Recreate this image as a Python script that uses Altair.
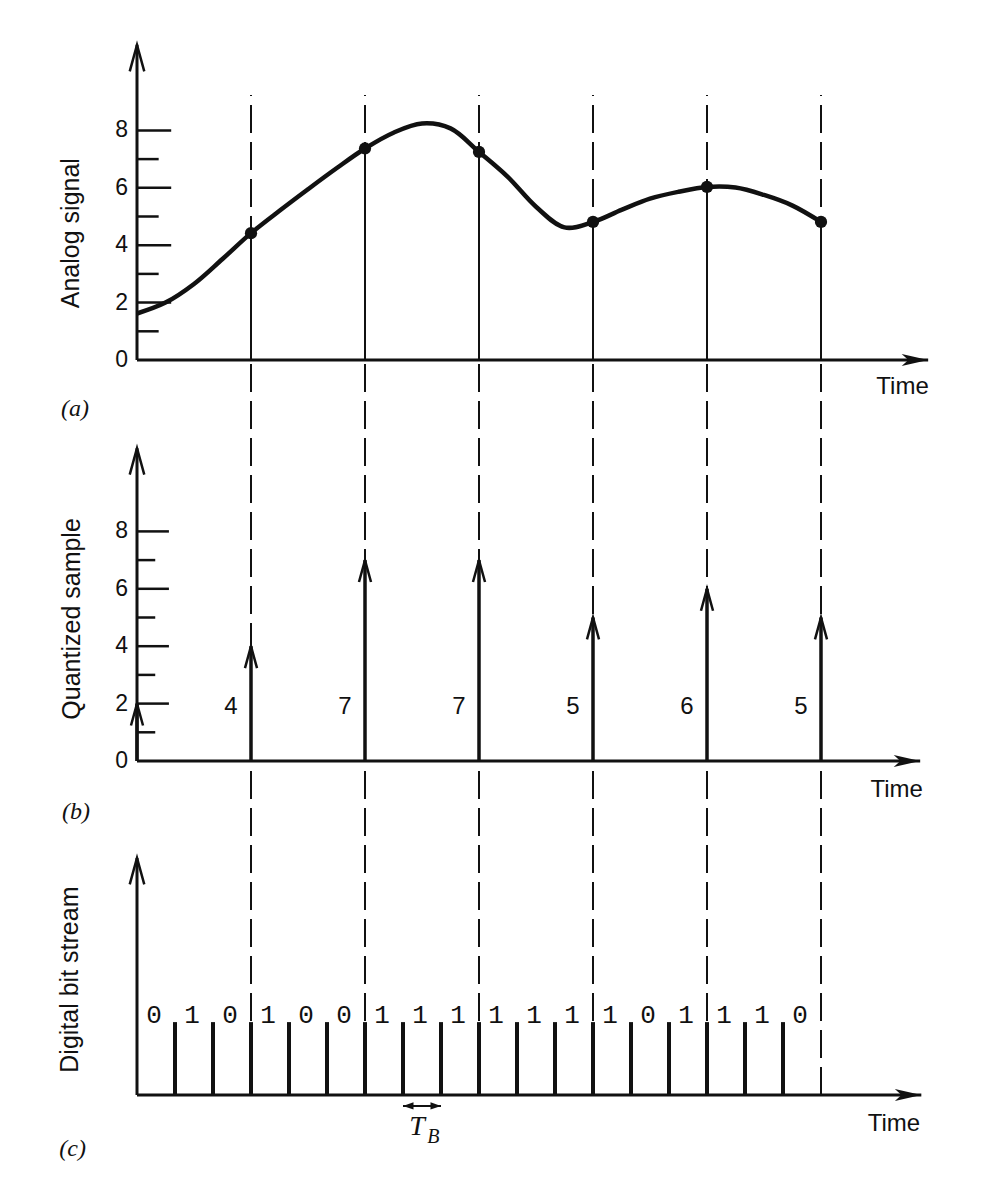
import altair as alt
import pandas as pd

# ---------------------------------------------------------------------------
# Values
# ---------------------------------------------------------------------------
# sampling instants (in sampling intervals) and the signal at each of them
sample_times = [0, 1, 2, 3, 4, 5, 6]
analog_samples = [1.62, 4.42, 7.37, 7.25, 4.81, 6.03, 4.81]
quantized = [2, 4, 7, 7, 5, 6, 5]

# continuous analog waveform, read every quarter of a sampling interval
curve_t = [0.0, 0.25, 0.5, 0.75, 1.0, 1.25, 1.5, 1.75, 2.0, 2.25, 2.5, 2.75, 3.0,
           3.25, 3.5, 3.75, 4.0, 4.25, 4.5, 4.75, 5.0, 5.25, 5.5, 5.75, 6.0]
curve_v = [1.62, 2.0, 2.65, 3.52, 4.42, 5.2, 5.95, 6.68, 7.37, 7.92, 8.24, 8.07, 7.25,
           6.39, 5.34, 4.62, 4.81, 5.23, 5.62, 5.86, 6.03, 6.01, 5.75, 5.38, 4.81]

# 3-bit PCM words of the samples at t = 0..5
bit_stream = "010100111111101110"
BITS_PER_SAMPLE = 3

tick_values = [1, 2, 3, 4, 5, 6, 7, 8]
tick_labels = [0, 2, 4, 6, 8]

# ---------------------------------------------------------------------------
# Layout: one shared coordinate system, the three panels stacked vertically
# ---------------------------------------------------------------------------
W, H = 998, 1180
PX_T = 114.0      # pixels per sampling interval
PX_V = 28.7       # pixels per quantization level
X0 = 137.0        # pixel column of the time origin

BASE_A = (H - 360) / PX_V
BASE_B = (H - 761) / PX_V
BASE_C = (H - 1095) / PX_V

SANS = "Liberation Sans"
SERIF = "Liberation Serif"
MONO = "Liberation Mono"
INK = "#111111"

xs = alt.Scale(domain=[-X0 / PX_T, (W - X0) / PX_T], nice=False, zero=False)
ys = alt.Scale(domain=[0, H / PX_V], nice=False, zero=False)


def X(f="t"):
    return alt.X(f"{f}:Q", scale=xs, axis=None)


def Y(f="u"):
    return alt.Y(f"{f}:Q", scale=ys, axis=None)


CHEVRON = "M -0.55 2 L 0 0 L 0.55 2"
ARROW_R = "M 0 0 L -2 -0.45 L -1.5 0 L -2 0.45 Z"
TRI_L = "M 0 0 L 2 -0.7 L 2 0.7 Z"
TRI_R = "M 0 0 L -2 -0.7 L -2 0.7 Z"

layers = []

# dashed sampling-instant guides running through all three panels
guides = pd.DataFrame({"t": sample_times[1:], "u": BASE_C, "u2": BASE_A + 9.23})
layers.append(alt.Chart(guides).mark_rule(color=INK, strokeWidth=2, strokeDash=[28, 9])
              .encode(x=X(), y=Y(), y2=alt.Y2("u2:Q")))

# axes
bases = [BASE_A, BASE_B, BASE_C]
y_axes = pd.DataFrame({"t": [0, 0, 0], "u": bases,
                       "u2": [BASE_A + 10.98, BASE_B + 10.9, BASE_C + 8.26]})
x_axes = pd.DataFrame({"t": [0, 0, 0], "t2": [6.94, 6.87, 6.88], "u": bases})
layers.append(alt.Chart(y_axes).mark_rule(color=INK, strokeWidth=3)
              .encode(x=X(), y=Y(), y2=alt.Y2("u2:Q")))
layers.append(alt.Chart(x_axes).mark_rule(color=INK, strokeWidth=3)
              .encode(x=X(), x2=alt.X2("t2:Q"), y=Y()))
layers.append(alt.Chart(y_axes).mark_point(shape=CHEVRON, filled=False, size=700,
                                           strokeWidth=2.5, color=INK, opacity=1)
              .encode(x=X(), y=Y("u2")))
layers.append(alt.Chart(x_axes).mark_point(shape=ARROW_R, filled=True, size=700,
                                           color=INK, opacity=1)
              .encode(x=X("t2"), y=Y()))

# inward tick marks and labels on panels (a) and (b)
tick_rows, label_rows = [], []
for base, major, minor in [(BASE_A, 0.30, 0.19), (BASE_B, 0.28, 0.16)]:
    for v in tick_values:
        tick_rows.append({"t": 0, "t2": major if v % 2 == 0 else minor, "u": base + v})
    for v in tick_labels:
        label_rows.append({"t": 0, "u": base + v, "text": str(v)})
layers.append(alt.Chart(pd.DataFrame(tick_rows)).mark_rule(color=INK, strokeWidth=2.5)
              .encode(x=X(), x2=alt.X2("t2:Q"), y=Y()))
layers.append(alt.Chart(pd.DataFrame(label_rows))
              .mark_text(font=SANS, fontSize=23, align="right", baseline="middle", dx=-9, color=INK)
              .encode(x=X(), y=Y(), text="text:N"))

# axis titles
titles = pd.DataFrame({
    "t": [-0.579, -0.570, -0.588],
    "u": [BASE_A + 4.42, BASE_B + 4.95, BASE_C + 4.02],
    "text": ["Analog signal", "Quantized sample", "Digital bit stream"],
})
layers.append(alt.Chart(titles)
              .mark_text(font=SANS, fontSize=25, angle=270, align="center", baseline="middle", color=INK)
              .encode(x=X(), y=Y(), text="text:N"))

# "Time" captions and panel letters
times = pd.DataFrame({"t": [6.715, 6.664, 6.64],
                      "u": [BASE_A - 0.93, BASE_B - 1.01, BASE_C - 1.01],
                      "text": ["Time"] * 3})
layers.append(alt.Chart(times)
              .mark_text(font=SANS, fontSize=24, align="center", baseline="middle", color=INK)
              .encode(x=X(), y=Y(), text="text:N"))
letters = pd.DataFrame({"t": [-0.544, -0.535, -0.565],
                        "u": [BASE_A - 1.71, BASE_B - 1.78, BASE_C - 1.88],
                        "text": ["(a)", "(b)", "(c)"]})
layers.append(alt.Chart(letters)
              .mark_text(font=SERIF, fontSize=24, fontStyle="italic", align="center",
                         baseline="middle", color=INK)
              .encode(x=X(), y=Y(), text="text:N"))

# (a) analog signal with its samples
samples = pd.DataFrame({"t": sample_times, "a": analog_samples, "q": quantized})
samples["ua"] = BASE_A + samples["a"]
samples["ub"] = BASE_B + samples["q"]
samples["base_a"] = BASE_A
samples["base_b"] = BASE_B
later = samples[samples["t"] > 0]

layers.append(alt.Chart(later).mark_rule(color=INK, strokeWidth=2)
              .encode(x=X(), y=Y("base_a"), y2=alt.Y2("ua:Q")))
curve = pd.DataFrame({"t": curve_t, "u": [BASE_A + v for v in curve_v]})
layers.append(alt.Chart(curve).mark_line(color=INK, strokeWidth=4.5, interpolate="catmull-rom")
              .encode(x=X(), y=Y()))
layers.append(alt.Chart(later).mark_circle(color=INK, size=150, opacity=1)
              .encode(x=X(), y=Y("ua")))

# (b) quantized samples as arrows
layers.append(alt.Chart(samples).mark_rule(color=INK, strokeWidth=3.5)
              .encode(x=X(), y=Y("base_b"), y2=alt.Y2("ub:Q")))
layers.append(alt.Chart(samples).mark_point(shape=CHEVRON, filled=False, size=480,
                                            strokeWidth=2.5, color=INK, opacity=1)
              .encode(x=X(), y=Y("ub")))
qlabels = later.assign(lu=BASE_B + 1.88, text=later["q"].astype(str))
layers.append(alt.Chart(qlabels)
              .mark_text(font=SANS, fontSize=24, align="center", baseline="middle", dx=-20, color=INK)
              .encode(x=X(), y=Y("lu"), text="text:N"))

# (c) serial bit stream
n_bits = len(bit_stream)
bars = pd.DataFrame({"t": [k / BITS_PER_SAMPLE for k in range(1, n_bits)],
                     "u": BASE_C, "u2": BASE_C + 2.54})
layers.append(alt.Chart(bars).mark_rule(color=INK, strokeWidth=4)
              .encode(x=X(), y=Y(), y2=alt.Y2("u2:Q")))
bits = pd.DataFrame({"t": [(i + 0.5) / BITS_PER_SAMPLE for i in range(n_bits)],
                     "u": BASE_C + 2.79, "text": list(bit_stream)})
layers.append(alt.Chart(bits)
              .mark_text(font=MONO, fontSize=26, align="center", baseline="middle", dx=-2, color=INK)
              .encode(x=X(), y=Y(), text="text:N"))

# bit period marker T_B under the eighth bit
tb = pd.DataFrame({"t": [7 / BITS_PER_SAMPLE], "t2": [8 / BITS_PER_SAMPLE], "u": [BASE_C - 0.38]})
layers.append(alt.Chart(tb).mark_rule(color=INK, strokeWidth=2)
              .encode(x=X(), x2=alt.X2("t2:Q"), y=Y()))
layers.append(alt.Chart(tb).mark_point(shape=TRI_L, filled=True, size=110, color=INK, opacity=1)
              .encode(x=X(), y=Y()))
layers.append(alt.Chart(tb).mark_point(shape=TRI_R, filled=True, size=110, color=INK, opacity=1)
              .encode(x=X("t2"), y=Y()))
tb_t = pd.DataFrame({"t": [2.456], "u": [BASE_C - 1.39], "text": ["T"]})
tb_b = pd.DataFrame({"t": [2.60], "u": [BASE_C - 1.67], "text": ["B"]})
layers.append(alt.Chart(tb_t)
              .mark_text(font=SERIF, fontSize=28, fontStyle="italic", align="center",
                         baseline="alphabetic", color=INK)
              .encode(x=X(), y=Y(), text="text:N"))
layers.append(alt.Chart(tb_b)
              .mark_text(font=SERIF, fontSize=20, fontStyle="italic", align="center",
                         baseline="alphabetic", color=INK)
              .encode(x=X(), y=Y(), text="text:N"))

chart = (
    alt.layer(*layers)
    .properties(width=W, height=H, autosize=alt.AutoSizeParams(type="none"), padding=0,
                background="white")
    .configure_view(strokeWidth=0)
)

chart.save("out.html", embed_options={"renderer": "svg", "actions": False})
